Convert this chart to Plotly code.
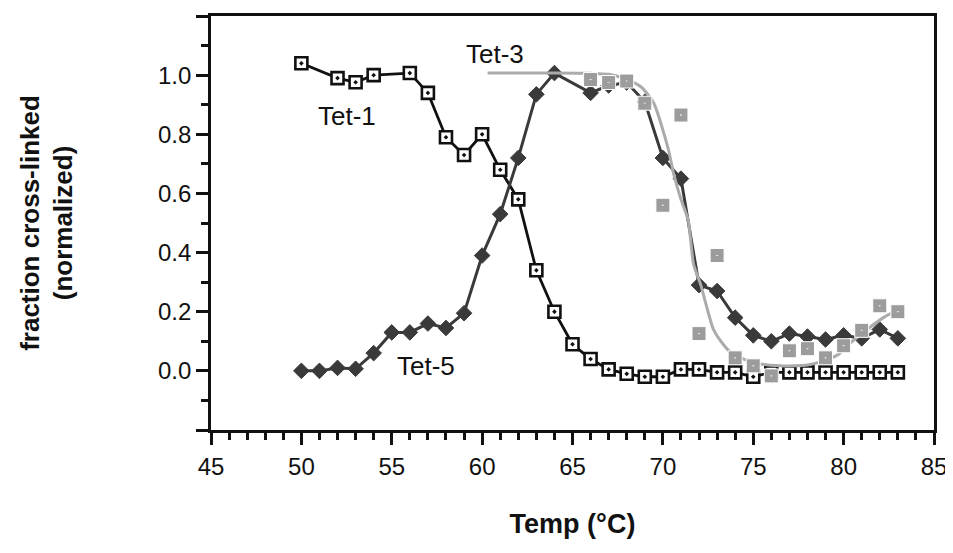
import plotly.graph_objects as go

# ---- data ----
tet1_x = [50, 52, 53, 54, 56, 57, 58, 59, 60, 61, 62, 63, 64, 65, 66, 67, 68, 69, 70,
          71, 72, 73, 74, 75, 76, 77, 78, 79, 80, 81, 82, 83]
tet1_y = [1.04, 0.99, 0.976, 1.0, 1.007, 0.94, 0.79, 0.73, 0.80, 0.68, 0.58, 0.34, 0.20,
          0.09, 0.04, 0.005, -0.01, -0.02, -0.02, 0.005, 0.005, -0.005, -0.005, -0.02,
          -0.005, -0.005, -0.005, -0.005, -0.005, -0.005, -0.005, -0.005]

tet5_x = [50, 51, 52, 53, 54, 55, 56, 57, 58, 59, 60, 61, 62, 63, 64, 66, 67, 68, 69, 70,
          71, 72, 73, 74, 75, 76, 77, 78, 79, 80, 81, 82, 83]
tet5_y = [0.0, 0.0, 0.01, 0.007, 0.06, 0.13, 0.13, 0.16, 0.145, 0.195, 0.39, 0.53, 0.72,
          0.935, 1.007, 0.94, 0.965, 0.975, 0.91, 0.72, 0.65, 0.29, 0.27, 0.18, 0.12, 0.10,
          0.126, 0.116, 0.106, 0.12, 0.11, 0.14, 0.11]

tet3_x = [66, 67, 68, 69, 70, 71, 72, 73, 74, 75, 76, 77, 78, 79, 80, 81, 82, 83]
tet3_y = [0.985, 0.975, 0.98, 0.905, 0.56, 0.865, 0.126, 0.39, 0.044, 0.017, -0.017,
          0.068, 0.075, 0.044, 0.085, 0.137, 0.22, 0.2]

fit3_x = [60.3, 62, 64, 66, 67, 67.8, 68.8, 69.5, 70.3, 70.6, 71.0, 71.4, 71.7, 72.1,
          72.8, 73.4, 73.9, 75.1, 76.5, 78.0, 78.9, 79.7, 80.2, 81.3, 82.2, 83.1]
fit3_y = [1.007, 1.007, 1.007, 1.006, 1.003, 0.99, 0.96, 0.905, 0.75, 0.665, 0.58, 0.51,
          0.36, 0.29, 0.14, 0.085, 0.055, 0.027, 0.017, 0.02, 0.034, 0.055, 0.085, 0.14,
          0.18, 0.21]

x_ticks = [45, 50, 55, 60, 65, 70, 75, 80, 85]
y_ticks = [-0.2, 0.0, 0.2, 0.4, 0.6, 0.8, 1.0, 1.2]
y_ticktext = ["", "0.0", "0.2", "0.4", "0.6", "0.8", "1.0", ""]

labels = ["Tet-1", "Tet-3", "Tet-5"]
label_x = [52.5, 60.7, 56.9]
label_y = [0.862, 1.072, 0.015]

FONT = "Liberation Sans, Arial, Helvetica, sans-serif"

fig = go.Figure()

fig.add_trace(go.Scatter(
    x=tet1_x, y=tet1_y, mode="lines+markers", name="Tet-1",
    line=dict(color="#111111", width=2.8),
    marker=dict(symbol="square-dot", size=12, color="white",
                line=dict(color="#111111", width=2.6)),
))
fig.add_trace(go.Scatter(
    x=tet5_x, y=tet5_y, mode="lines+markers", name="Tet-5",
    line=dict(color="#3a3a3a", width=3),
    marker=dict(symbol="diamond", size=12, color="#3a3a3a",
                line=dict(color="#3a3a3a", width=1)),
))
fig.add_trace(go.Scatter(
    x=fit3_x, y=fit3_y, mode="lines", name="Tet-3 fit",
    line=dict(color="#ababab", width=3, shape="spline", smoothing=0.6),
))
fig.add_trace(go.Scatter(
    x=tet3_x, y=tet3_y, mode="markers", name="Tet-3",
    marker=dict(symbol="square-dot", size=14, color="#9c9c9c",
                line=dict(color="white", width=1)),
))

for t, lx, ly in zip(labels, label_x, label_y):
    fig.add_annotation(x=lx, y=ly, text=t, showarrow=False,
                       font=dict(family=FONT, size=26, color="#111111"))

# page body adds an 8px margin, so the figure is 16px smaller than the window
fig.update_layout(
    width=945, height=545,
    margin=dict(l=203, r=19, t=5, b=123),
    paper_bgcolor="white", plot_bgcolor="white",
    showlegend=False,
    font=dict(family=FONT, color="#111111"),
)

fig.update_xaxes(
    range=[45, 85], tickvals=x_ticks, ticktext=[str(v) for v in x_ticks],
    ticks="outside", ticklen=12, tickwidth=2.5, tickcolor="#111111",
    showline=True, linecolor="#111111", linewidth=2.8, mirror=True,
    showgrid=False, zeroline=False,
    tickfont=dict(family=FONT, size=24, color="#111111"),
    ticklabelstandoff=1,
    minor=dict(dtick=1, ticks="outside", ticklen=7, tickwidth=2.5, tickcolor="#111111", showgrid=False),
    title=dict(text="<b>Temp (°C)</b>", font=dict(family=FONT, size=27, color="#111111"), standoff=36),
)
fig.update_yaxes(
    range=[-0.2, 1.2], tickvals=y_ticks, ticktext=y_ticktext,
    ticks="outside", ticklen=12, tickwidth=2.5, tickcolor="#111111",
    showline=True, linecolor="#111111", linewidth=2.8, mirror=True,
    showgrid=False, zeroline=False,
    tickfont=dict(family=FONT, size=24, color="#111111"),
    ticklabelstandoff=0,
    minor=dict(dtick=0.1, ticks="outside", ticklen=7, tickwidth=2.5, tickcolor="#111111", showgrid=False),
    title=dict(text="<b>fraction cross-linked<br>(normalized)</b>",
               font=dict(family=FONT, size=26, color="#111111"), standoff=78),
)

fig.write_html("out.html")
